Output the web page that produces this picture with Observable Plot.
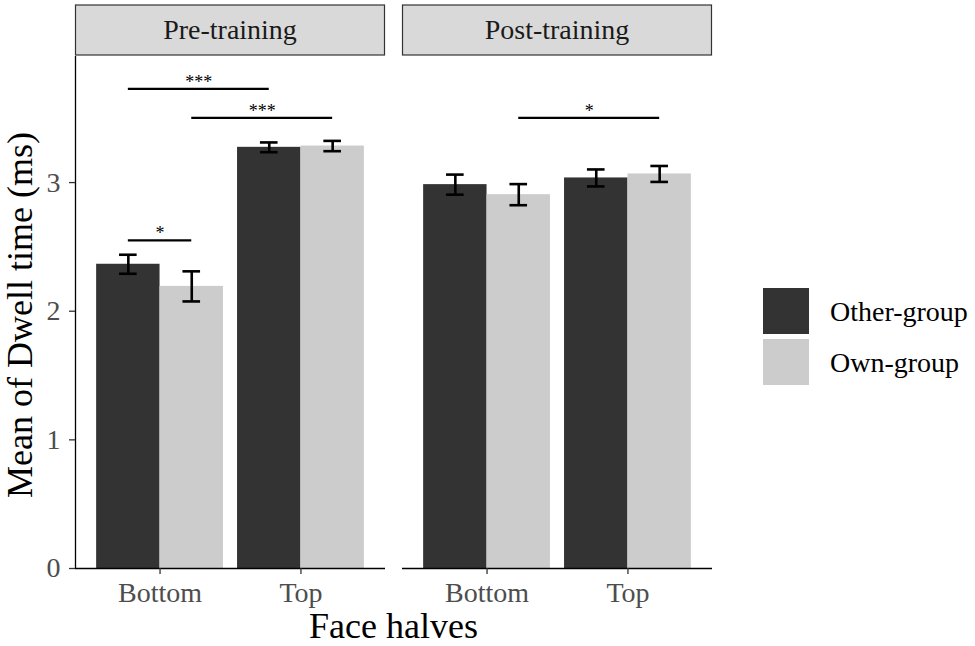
<!DOCTYPE html>
<html>
<head>
<meta charset="utf-8">
<script src="https://cdn.jsdelivr.net/npm/d3@7"></script>
<script src="https://cdn.jsdelivr.net/npm/@observablehq/plot@0.6"></script>
<style>
  html, body { margin: 0; padding: 0; background: #fff; }
  #chart { width: 975px; height: 646px; }
</style>
</head>
<body>
<div id="chart"></div>
<script>
// ---- data ----
const phases = ["Pre-training", "Post-training"];
const halves = ["Bottom", "Top"];
const groups = ["Other-group", "Own-group"];
// order: Bottom/Other, Bottom/Own, Top/Other, Top/Own
const preMeans = [2.365, 2.193, 3.274, 3.284];
const preSE = [0.074, 0.117, 0.038, 0.040];
const postMeans = [2.984, 2.906, 3.036, 3.067];
const postSE = [0.078, 0.082, 0.066, 0.062];
const yTicks = [0, 1, 2, 3];

// significance brackets
const sigPhase = ["Pre-training", "Pre-training", "Pre-training", "Post-training"];
const sigHalf1 = ["Bottom", "Bottom", "Bottom", "Bottom"];
const sigGroup1 = ["Other-group", "Own-group", "Other-group", "Own-group"];
const sigHalf2 = ["Top", "Top", "Bottom", "Top"];
const sigGroup2 = ["Other-group", "Own-group", "Own-group", "Own-group"];
const sigY = [3.728, 3.503, 2.551, 3.503];
const sigLabel = ["***", "***", "*", "*"];

// ---- build tables ----
const dodge = 0.225;  // half of a dodged bar width
const capHalf = 0.0625;
const pos = (h, g) => halves.indexOf(h) + 1 + (groups.indexOf(g) === 0 ? -dodge : dodge);

const bars = [];
phases.forEach((p, pi) => {
  const m = pi === 0 ? preMeans : postMeans;
  const s = pi === 0 ? preSE : postSE;
  halves.forEach((h, hi) => groups.forEach((g, gi) => {
    const k = hi * 2 + gi;
    bars.push({phase: p, half: h, group: g, xc: pos(h, g), mean: m[k], se: s[k]});
  }));
});
const sigs = sigPhase.map((p, i) => ({
  phase: p, a: pos(sigHalf1[i], sigGroup1[i]), b: pos(sigHalf2[i], sigGroup2[i]), y: sigY[i], label: sigLabel[i]
}));
const yLine = [{phase: phases[0], x: 0.4}];

const font = "'Liberation Serif', 'Times New Roman', serif";

const plot = Plot.plot({
  width: 975,
  height: 646,
  marginLeft: 74,
  marginRight: 263,
  marginTop: 56,
  marginBottom: 78,
  style: {fontFamily: font, fontSize: "28px", background: "#fff", color: "#000"},
  fx: {domain: phases, paddingInner: 0.052, paddingOuter: 0, axis: null, label: null},
  x: {type: "linear", domain: [0.4, 2.6], axis: null},
  y: {domain: [0, 3.98], axis: null},
  color: {domain: groups, range: ["#333333", "#cccccc"]},
  marks: [
    Plot.rect(bars, {fx: "phase", x1: d => d.xc - dodge, x2: d => d.xc + dodge, y1: 0, y2: "mean", fill: "group"}),
    Plot.ruleX(bars, {fx: "phase", x: "xc", y1: d => d.mean - d.se, y2: d => d.mean + d.se, stroke: "#000", strokeWidth: 2.6}),
    Plot.ruleY(bars, {fx: "phase", x1: d => d.xc - capHalf, x2: d => d.xc + capHalf, y: d => d.mean - d.se, stroke: "#000", strokeWidth: 2.6}),
    Plot.ruleY(bars, {fx: "phase", x1: d => d.xc - capHalf, x2: d => d.xc + capHalf, y: d => d.mean + d.se, stroke: "#000", strokeWidth: 2.6}),
    Plot.ruleY(sigs, {fx: "phase", x1: "a", x2: "b", y: "y", stroke: "#000", strokeWidth: 2.3}),
    Plot.text(sigs, {fx: "phase", x: d => (d.a + d.b) / 2, y: "y", text: "label", fontSize: 18, lineAnchor: "bottom", dy: -1, fill: "#000"}),
    Plot.ruleY([0], {stroke: "#000", strokeWidth: 1.3}),
    Plot.ruleX(yLine, {fx: "phase", x: "x", stroke: "#000", strokeWidth: 1.3}),
    Plot.axisX({ticks: [1, 2], tickFormat: v => halves[v - 1], tickSize: 6, tickPadding: 8, fontSize: 28, stroke: "#333", fill: "#4d4d4d", strokeWidth: 1.3, label: null}),
    Plot.axisY({ticks: yTicks, tickFormat: d3.format("d"), tickSize: 6, tickPadding: 9, fontSize: 28, stroke: "#333", fill: "#4d4d4d", strokeWidth: 1.3, label: null})
  ]
});

document.getElementById("chart").appendChild(plot);

// ---- decorations using the scales ----
const svg = d3.select(plot);
const fx = plot.scale("fx");
const bw = fx.bandwidth;
const stripTop = 5, stripBottom = 55;

const strips = svg.append("g");
phases.forEach(p => {
  const x0 = fx.apply(p);
  strips.append("rect")
    .attr("x", x0 + 0.5).attr("y", stripTop)
    .attr("width", bw - 1).attr("height", stripBottom - stripTop)
    .attr("fill", "#d9d9d9").attr("stroke", "#333").attr("stroke-width", 1.2);
  strips.append("text")
    .attr("x", x0 + bw / 2).attr("y", (stripTop + stripBottom) / 2)
    .attr("dy", "0.33em")
    .attr("text-anchor", "middle")
    .attr("font-family", font).attr("font-size", 28).attr("fill", "#1a1a1a")
    .text(p);
});

// axis titles
const left = fx.apply(phases[0]);
const right = fx.apply(phases[phases.length - 1]) + bw;
svg.append("text")
  .attr("x", (left + right) / 2).attr("y", 638)
  .attr("text-anchor", "middle")
  .attr("font-family", font).attr("font-size", 36).attr("fill", "#000")
  .text("Face halves");
svg.append("text")
  .attr("transform", `translate(32, ${(56 + 568) / 2 + 3}) rotate(-90)`)
  .attr("text-anchor", "middle")
  .attr("font-family", font).attr("font-size", 36).attr("fill", "#000")
  .text("Mean of Dwell time (ms)");

// legend
const color = plot.scale("color");
const leg = svg.append("g");
const keyX = 763, keyY0 = 288, keySize = 46, keyGap = 5;
color.domain.forEach((g, i) => {
  const y = keyY0 + i * (keySize + keyGap);
  leg.append("rect").attr("x", keyX).attr("y", y).attr("width", keySize).attr("height", keySize)
    .attr("fill", color.apply(g));
  leg.append("text").attr("x", 830).attr("y", y + keySize / 2).attr("dy", "0.35em")
    .attr("text-anchor", "start")
    .attr("font-family", font).attr("font-size", 28).attr("fill", "#000")
    .text(g);
});
</script>
</body>
</html>
